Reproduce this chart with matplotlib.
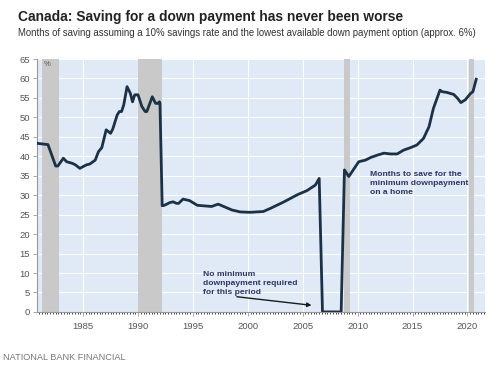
import numpy as np
import matplotlib
matplotlib.use("Agg")
import matplotlib.pyplot as plt
from matplotlib.ticker import MultipleLocator

plt.rcParams['font.family'] = ['Liberation Sans', 'DejaVu Sans']

# months of saving needed
years = [1980.9, 1981.8, 1982.5, 1982.7, 1983.2, 1983.5, 1984.0, 1984.3, 1984.7,
         1985.3, 1985.6, 1986.1, 1986.4, 1986.7, 1987.1, 1987.5, 1987.7, 1988.1,
         1988.3, 1988.5, 1988.7, 1989.0, 1989.3, 1989.5, 1989.7, 1990.0, 1990.35,
         1990.65, 1990.8, 1991.3, 1991.6, 1991.8, 1991.95, 1992.0, 1992.2, 1992.4,
         1992.9, 1993.2, 1993.5, 1993.7, 1994.1, 1994.4, 1994.7, 1995.4, 1996.7,
         1997.3, 1998.55, 1999.3, 2000.2, 2001.4, 2002.05, 2003.3, 2004.5, 2005.4,
         2006.15, 2006.5, 2006.8, 2008.5, 2008.8, 2009.2, 2009.6, 2010.1, 2010.7,
         2011.2, 2011.8, 2012.4, 2013.0, 2013.6, 2014.2, 2014.8, 2015.4, 2016.0,
         2016.5, 2016.9, 2017.5, 2017.7, 2018.15, 2018.75, 2019.1, 2019.4, 2019.8,
         2020.3, 2020.5, 2020.8]
months = [43.3, 43.0, 37.5, 37.5, 39.5, 38.6, 38.2, 37.8, 36.9,
          37.8, 38.0, 39.0, 41.2, 42.2, 46.8, 45.9, 47.0, 50.6,
          51.5, 51.5, 53.2, 57.9, 56.2, 54.0, 55.8, 55.8, 52.8,
          51.5, 51.5, 55.3, 53.6, 53.6, 54.0, 53.6, 27.3, 27.4,
          28.1, 28.3, 27.9, 27.9, 29.0, 28.8, 28.6, 27.4, 27.1,
          27.7, 26.2, 25.7, 25.6, 25.8, 26.6, 28.3, 30.1, 31.2,
          32.6, 34.3, 0.0, 0.0, 36.5, 34.8, 36.5, 38.6, 39.0,
          39.7, 40.3, 40.8, 40.6, 40.6, 41.6, 42.2, 42.9, 44.6,
          47.6, 52.3, 57.0, 56.6, 56.4, 55.9, 54.9, 53.8, 54.5,
          56.2, 56.6, 59.8]

# recessions (start, end)
rec_start = [1981.3, 1990.0, 2008.8, 2020.1]
rec_end = [1982.8, 1992.2, 2009.3, 2020.6]

fig = plt.figure(figsize=(5, 3.7), dpi=100)
ax = fig.add_axes([0.074, 0.157, 0.896, 0.6835])
ax.set_facecolor('#dfeaf6')

for a, b in zip(rec_start, rec_end):
    ax.axvspan(a, b, color='#c9c9c9', lw=0, zorder=1)

ax.plot(years, months, color='#1b3148', lw=2, zorder=3)

ax.set_xlim(1980.8, 2021.6)
ax.set_ylim(0, 65)
ax.yaxis.set_major_locator(MultipleLocator(5))
ax.xaxis.set_major_locator(MultipleLocator(5))
ax.xaxis.set_minor_locator(MultipleLocator(0.25))
ax.grid(True, which='major', color='white', lw=0.8, zorder=0)
ax.set_axisbelow(True)

for s in ['top', 'right']:
    ax.spines[s].set_visible(False)
for s in ['left', 'bottom']:
    ax.spines[s].set_color('#999999')
    ax.spines[s].set_linewidth(0.8)

ax.tick_params(axis='both', colors='#999999', labelcolor='#555555', labelsize=6.8)
ax.tick_params(axis='y', length=3, width=0.6, pad=2)
ax.tick_params(axis='x', which='major', length=3, width=0.6, pad=4)
ax.tick_params(axis='x', which='minor', length=1.5, width=0.5)

ax.text(1981.4, 64.5, '%', fontsize=5.5, color='#555555', va='top')

ax.text(2011.15, 36.3, 'Months to save for the\nminimum downpayment\non a home',
        fontsize=6.1, fontweight='bold', color='#2e3466', va='top', linespacing=1.4)
ax.text(1995.9, 10.6, 'No minimum\ndownpayment required\nfor this period',
        fontsize=6.1, fontweight='bold', color='#2e3466', va='top', linespacing=1.4)
ax.annotate('', xy=(2005.8, 1.7), xytext=(1999.0, 3.9),
            arrowprops=dict(arrowstyle='-|>', color='#1b1b1b', lw=1.0,
                            mutation_scale=6, shrinkA=0, shrinkB=0))

fig.text(0.036, 0.955, 'Canada: Saving for a down payment has never been worse',
         fontsize=9.9, fontweight='bold', color='#222222', va='center')
fig.text(0.036, 0.912, 'Months of saving assuming a 10% savings rate and the lowest '
         'available down payment option (approx. 6%)',
         fontsize=6.9, color='#333333', va='center')
fig.text(0.006, 0.033, 'NATIONAL BANK FINANCIAL', fontsize=6.6, color='#777777',
         va='center')

fig.savefig('out.png', dpi=100)
